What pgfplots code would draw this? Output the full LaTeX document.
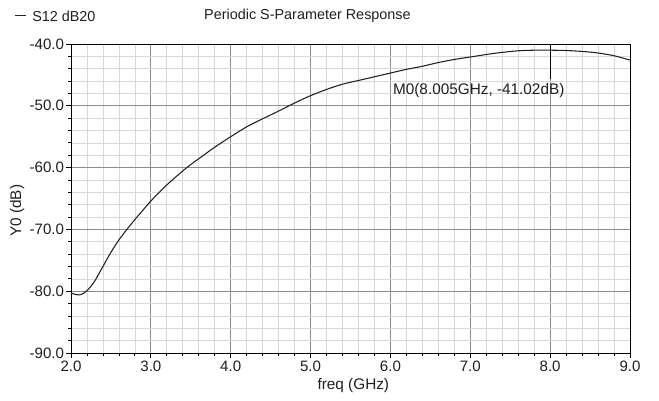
\documentclass[border=0pt]{standalone}
\usepackage{fontspec}
\setmainfont{Liberation Sans}
\usepackage{pgfplots}
\pgfplotsset{compat=1.18}

\definecolor{majgrid}{HTML}{8C8C8C}
\definecolor{mingrid}{HTML}{D8D8D8}
\definecolor{curve}{HTML}{202020}

\begin{document}
\fontsize{11.5pt}{13pt}\selectfont
\begin{tikzpicture}
% page = 659x400 px at 0.75pt/px
\useasboundingbox (0,0) rectangle (494.25pt,300pt);
\begin{axis}[
  at={(53.25pt,35.25pt)}, anchor=south west,
  scale only axis, width=419.25pt, height=231.75pt,
  xmin=2, xmax=9, ymin=-90, ymax=-40,
  xtick={2,3,...,9}, ytick={-90,-80,...,-40},
  minor x tick num=4, minor y tick num=4,
  grid=both,
  major grid style={draw=majgrid, line width=0.6pt},
  minor grid style={draw=mingrid, line width=0.5pt},
  axis line style={draw=black, line width=0.6pt},
  tick align=outside, tick pos=left,
  major tick length=3.75pt, minor tick length=2.25pt,
  tick style={draw=black, line width=0.6pt},
  xticklabel style={/pgf/number format/.cd, fixed, fixed zerofill, precision=1},
  yticklabel style={/pgf/number format/.cd, fixed, fixed zerofill, precision=1},
  /pgf/number format/assume math mode=true,
  tick label style={font=\fontsize{11.3pt}{13pt}\selectfont, text=black!88},
  xticklabel shift=-1.5pt, yticklabel shift=-2.5pt,
]
\addplot[curve, line width=0.8pt, smooth, tension=0.4] coordinates {
(2.00,-80.3) (2.05,-80.5) (2.10,-80.6) (2.15,-80.4) (2.20,-79.9)
(2.25,-79.2) (2.30,-78.3) (2.40,-76.0) (2.50,-73.7) (2.60,-71.7)
(2.70,-70.0) (2.80,-68.4) (2.90,-66.9) (3.00,-65.4) (3.20,-62.8)
(3.45,-60.0) (3.66,-58.0) (3.80,-56.7) (4.00,-55.0) (4.20,-53.4)
(4.40,-52.1) (4.60,-50.85) (4.80,-49.55) (5.00,-48.35) (5.20,-47.35)
(5.40,-46.5) (5.60,-45.9) (5.80,-45.3) (6.00,-44.7) (6.20,-44.1)
(6.40,-43.6) (6.60,-43.0) (6.80,-42.5) (7.00,-42.1) (7.20,-41.7)
(7.40,-41.35) (7.60,-41.1) (7.80,-41.0) (8.00,-41.0) (8.20,-41.05)
(8.40,-41.2) (8.60,-41.45) (8.80,-41.9) (9.00,-42.6)
};
\draw[black, line width=1pt] (axis cs:8.005,-40.2) -- (axis cs:8.005,-45.6);
\node[anchor=west, inner sep=0pt, text=black!88] at (axis cs:6.03,-47.5) {M0(8.005GHz, -41.02dB)};
\end{axis}
\node[inner sep=0pt, text=black!88, font=\fontsize{10.8pt}{13pt}\selectfont] at (230.6pt,288pt) {Periodic S-Parameter Response};
\draw[black!85, line width=0.7pt] (11.25pt,288.7pt) -- (19.5pt,288.7pt);
\node[anchor=west, inner sep=0pt, text=black!88, font=\fontsize{10.8pt}{13pt}\selectfont] at (24pt,288pt) {S12 dB20};
\node[inner sep=0pt, rotate=90, text=black!88] at (12.8pt,142pt) {Y0 (dB)};
\node[inner sep=0pt, text=black!88] at (265pt,10.5pt) {freq (GHz)};
\end{tikzpicture}
\end{document}
